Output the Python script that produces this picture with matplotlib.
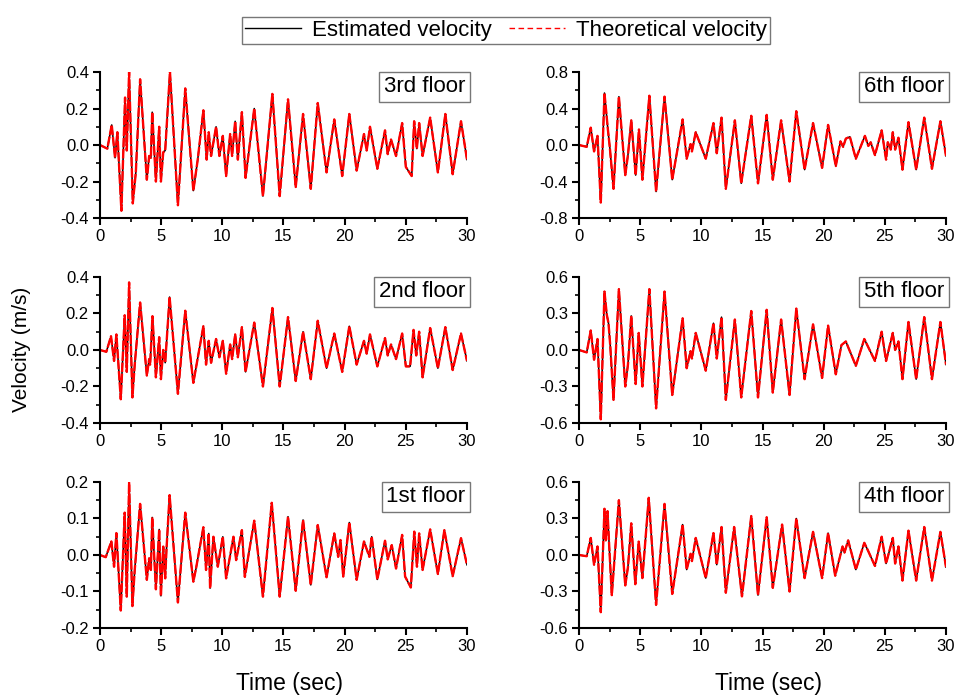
import numpy as np
import matplotlib
matplotlib.use('Agg')
import matplotlib.pyplot as plt
from matplotlib.ticker import MultipleLocator, FormatStrFormatter

plt.rcParams['font.family'] = ['Liberation Sans', 'DejaVu Sans']

# peak / trough values (time in sec, velocity in m/s)
t_3rd = [0, 0.60, 0.96, 1.23, 1.42, 1.75, 2.05, 2.19, 2.38, 2.68, 2.93, 3.28, 3.83, 4.02, 4.16, 4.27,
         4.57, 4.84, 4.98, 5.17, 5.33, 5.72, 6.37, 6.97, 7.63, 7.99, 8.45, 8.72, 8.89, 9.08, 9.49, 9.76,
         10.04, 10.31, 10.64, 10.80, 11.05, 11.27, 11.60, 11.90, 12.61, 13.32, 14.09, 14.69, 15.37, 16.00,
         16.60, 17.23, 17.80, 18.52, 19.15, 19.80, 20.38, 20.98, 21.58, 21.80, 22.07, 22.67, 23.30, 23.52,
         23.79, 24.20, 24.70, 25.00, 25.48, 25.68, 25.90, 26.09, 26.37, 26.99, 27.62, 28.23, 28.83, 29.51, 30.0]
v_3rd = [0, -0.02, 0.11, -0.07, 0.07, -0.36, 0.26, -0.03, 0.40, -0.32, -0.15, 0.36, -0.19, -0.06, -0.07, 0.18,
         -0.20, 0.10, -0.20, -0.04, -0.03, 0.40, -0.33, 0.31, -0.25, -0.08, 0.19, -0.08, 0.07, -0.06, 0.10, -0.06,
         0.05, -0.17, 0.06, -0.06, 0.13, -0.08, 0.18, -0.18, 0.20, -0.28, 0.28, -0.28, 0.25, -0.23,
         0.17, -0.24, 0.23, -0.15, 0.14, -0.17, 0.17, -0.14, 0.06, -0.03, 0.10, -0.13, 0.08, -0.05,
         0.03, -0.06, 0.12, -0.12, -0.17, 0.13, -0.02, 0.12, -0.06, 0.15, -0.15, 0.17, -0.16, 0.13, -0.08]

t_2nd = [0, 0.52, 0.90, 1.15, 1.34, 1.70, 2.02, 2.19, 2.38, 2.65, 2.84, 3.28, 3.83, 4.02, 4.10, 4.29,
         4.57, 4.84, 4.98, 5.17, 5.33, 5.69, 6.37, 6.97, 7.63, 8.45, 8.67, 8.89, 9.08, 9.49, 9.76, 10.04,
         10.31, 10.64, 10.80, 11.05, 11.27, 11.60, 11.90, 12.61, 13.32, 14.09, 14.69, 15.37, 16.00, 16.60,
         17.23, 17.80, 18.52, 19.15, 19.80, 20.38, 20.98, 21.58, 21.80, 22.07, 22.67, 23.30, 23.52, 23.79,
         24.20, 24.70, 25.00, 25.35, 25.63, 25.85, 26.09, 26.37, 26.99, 27.62, 28.23, 28.83, 29.51, 30.0]
v_2nd = [0, -0.01, 0.075, -0.06, 0.085, -0.27, 0.19, -0.12, 0.37, -0.26, -0.08, 0.26, -0.14, -0.05, -0.08, 0.185,
         -0.15, 0.07, -0.16, 0.00, -0.07, 0.29, -0.24, 0.215, -0.18, 0.13, -0.08, 0.05, -0.07, 0.06, -0.04, 0.05,
         -0.13, 0.03, -0.05, 0.085, -0.04, 0.125, -0.12, 0.15, -0.20, 0.23, -0.20, 0.18, -0.17, 0.10,
         -0.16, 0.16, -0.10, 0.09, -0.12, 0.13, -0.08, 0.05, -0.02, 0.085, -0.09, 0.065, -0.03, 0.03,
         -0.05, 0.09, -0.09, -0.09, 0.11, -0.03, 0.10, -0.15, 0.12, -0.10, 0.125, -0.11, 0.09, -0.06]

t_1st = [0, 0.47, 0.93, 1.15, 1.34, 1.70, 2.02, 2.19, 2.38, 2.65, 2.84, 3.28, 3.83, 4.02, 4.16, 4.27,
         4.57, 4.84, 4.98, 5.17, 5.33, 5.44, 5.69, 6.37, 6.97, 7.63, 7.85, 8.45, 8.67, 8.89, 9.00, 9.27,
         9.63, 10.04, 10.31, 10.91, 11.13, 11.60, 11.84, 12.61, 13.32, 14.04, 14.69, 15.37, 16.00, 16.60,
         17.23, 17.80, 18.52, 19.15, 19.47, 19.66, 19.88, 20.38, 20.98, 21.58, 22.02, 22.21, 22.67, 23.30,
         23.52, 23.85, 24.20, 24.70, 24.94, 25.41, 25.69, 25.91, 26.09, 26.37, 26.99, 27.62, 28.15, 28.83,
         29.51, 30.0]
v_1st = [0, -0.006, 0.037, -0.032, 0.06, -0.152, 0.116, -0.114, 0.198, -0.14, -0.041, 0.14, -0.068, -0.009, -0.041, 0.103,
         -0.094, 0.07, -0.112, 0.023, -0.064, 0.018, 0.164, -0.13, 0.116, -0.073, -0.037, 0.076, -0.041, 0.059, -0.091, 0.05,
         -0.032, 0.05, -0.064, 0.05, -0.014, 0.068, -0.06, 0.094, -0.114, 0.143, -0.114, 0.105, -0.098, 0.096,
         -0.082, 0.082, -0.061, 0.059, -0.005, 0.041, -0.059, 0.089, -0.068, 0.037, -0.005, 0.05, -0.067, 0.039,
         -0.012, 0.027, -0.037, 0.055, -0.059, -0.089, 0.064, -0.032, 0.059, -0.041, 0.07, -0.052, 0.068, -0.058,
         0.046, -0.027]

t_6th = [0, 0.63, 0.96, 1.23, 1.51, 1.78, 2.08, 2.36, 2.52, 2.82, 3.26, 3.78, 4.00, 4.27, 4.63, 4.90,
         5.18, 5.75, 6.30, 6.99, 7.62, 8.47, 8.80, 9.12, 9.23, 9.54, 10.36, 10.99, 11.26, 11.65, 12.00, 12.74,
         13.26, 14.08, 14.63, 15.34, 15.84, 16.52, 17.21, 17.76, 18.44, 19.13, 19.87, 20.36, 20.99, 21.37,
         21.59, 21.81, 22.14, 22.63, 23.37, 23.65, 23.84, 24.19, 24.74, 25.10, 25.24, 25.48, 25.65, 25.84,
         26.11, 26.44, 26.93, 27.56, 28.22, 28.85, 29.54, 30.0]
v_6th = [0, -0.02, 0.19, -0.07, 0.10, -0.63, 0.57, 0.17, -0.03, -0.48, 0.53, -0.33, -0.11, 0.27, -0.33, 0.17,
         -0.38, 0.54, -0.51, 0.53, -0.38, 0.28, -0.15, 0.01, -0.07, 0.14, -0.15, 0.24, -0.09, 0.30, -0.48, 0.27,
         -0.42, 0.32, -0.42, 0.33, -0.38, 0.27, -0.40, 0.37, -0.27, 0.24, -0.25, 0.22, -0.23, 0.04,
         -0.02, 0.07, 0.09, -0.15, 0.10, -0.01, 0.03, -0.11, 0.16, -0.16, 0.03, -0.05, 0.14, -0.05,
         0.08, -0.27, 0.25, -0.27, 0.30, -0.26, 0.26, -0.12]

t_5th = [0, 0.63, 0.96, 1.23, 1.51, 1.78, 2.08, 2.27, 2.41, 2.55, 2.82, 3.26, 3.78, 4.00, 4.27, 4.63,
         4.88, 5.18, 5.75, 6.30, 6.99, 7.62, 8.47, 8.80, 9.12, 9.23, 9.54, 10.36, 10.99, 11.26, 11.65, 12.00,
         12.74, 13.26, 14.08, 14.63, 15.34, 15.84, 16.52, 17.21, 17.76, 18.44, 19.13, 19.87, 20.36, 20.99,
         21.45, 21.81, 22.63, 23.32, 24.19, 24.74, 25.10, 25.65, 25.84, 26.11, 26.44, 26.93, 27.56, 28.22,
         28.85, 29.54, 30.0]
v_5th = [0, -0.02, 0.16, -0.08, 0.09, -0.57, 0.48, 0.29, 0.22, 0.04, -0.41, 0.50, -0.30, -0.12, 0.28, -0.28,
         0.14, -0.30, 0.50, -0.48, 0.48, -0.37, 0.26, -0.15, -0.01, -0.07, 0.14, -0.17, 0.22, -0.07, 0.27, -0.41,
         0.25, -0.39, 0.32, -0.39, 0.33, -0.35, 0.25, -0.37, 0.34, -0.24, 0.21, -0.23, 0.20, -0.20,
         0.04, 0.07, -0.13, 0.09, -0.09, 0.15, -0.09, 0.14, 0.00, 0.07, -0.24, 0.23, -0.24, 0.27,
         -0.24, 0.23, -0.12]

t_4th = [0, 0.63, 0.96, 1.23, 1.51, 1.78, 2.08, 2.19, 2.33, 2.47, 2.68, 3.26, 3.78, 4.00, 4.27, 4.60,
         4.88, 5.18, 5.70, 6.30, 6.99, 7.62, 8.47, 8.80, 9.12, 9.23, 9.54, 10.36, 10.99, 11.26, 11.65, 12.00,
         12.68, 13.32, 14.08, 14.63, 15.34, 15.84, 16.60, 17.21, 17.76, 18.44, 19.13, 19.87, 20.36, 20.94,
         21.54, 21.70, 22.00, 22.63, 23.32, 23.65, 24.19, 24.74, 25.10, 25.65, 25.84, 26.11, 26.44, 26.93,
         27.56, 28.22, 28.85, 29.54, 30.0]
v_4th = [0, -0.01, 0.14, -0.08, 0.07, -0.47, 0.38, 0.12, 0.36, 0.07, -0.33, 0.45, -0.25, -0.10, 0.26, -0.24,
         0.11, -0.19, 0.47, -0.41, 0.42, -0.32, 0.25, -0.12, 0.01, -0.05, 0.14, -0.19, 0.18, -0.08, 0.23, -0.31,
         0.23, -0.34, 0.32, -0.33, 0.31, -0.27, 0.25, -0.30, 0.30, -0.19, 0.19, -0.19, 0.18, -0.17,
         0.07, 0.02, 0.12, -0.12, 0.10, 0.03, -0.09, 0.15, -0.07, 0.14, -0.07, 0.07, -0.21, 0.20,
         -0.21, 0.23, -0.21, 0.19, -0.10]

panels = [
    # (label, t, v, ymax, major, minor, left, bottom)
    ('3rd floor', t_3rd, v_3rd, 0.4, 0.2, 0.1, 0.1047, 0.6863),
    ('2nd floor', t_2nd, v_2nd, 0.4, 0.2, 0.1, 0.1047, 0.3914),
    ('1st floor', t_1st, v_1st, 0.2, 0.1, 0.05, 0.1047, 0.0964),
    ('6th floor', t_6th, v_6th, 0.8, 0.4, 0.2, 0.6063, 0.6863),
    ('5th floor', t_5th, v_5th, 0.6, 0.3, 0.15, 0.6063, 0.3914),
    ('4th floor', t_4th, v_4th, 0.6, 0.3, 0.15, 0.6063, 0.0964),
]

fig = plt.figure(figsize=(9.55, 6.95), dpi=100)

for label, t, v, ymax, major, minor, left, bottom in panels:
    ax = fig.add_axes([left, bottom, 0.3843, 0.2101])
    l1, = ax.plot(t, v, color='black', lw=1.1, label='Estimated velocity')
    l2, = ax.plot(t, v, color='red', lw=1.7, ls=(0, (4, 0.7)), label='Theoretical velocity')
    ax.set_xlim(0, 30)
    ax.set_ylim(-ymax, ymax)
    ax.xaxis.set_major_locator(MultipleLocator(5))
    ax.xaxis.set_minor_locator(MultipleLocator(2.5))
    ax.yaxis.set_major_locator(MultipleLocator(major))
    ax.yaxis.set_minor_locator(MultipleLocator(minor))
    ax.yaxis.set_major_formatter(FormatStrFormatter('%.1f'))
    ax.spines['top'].set_visible(False)
    ax.spines['right'].set_visible(False)
    ax.spines['left'].set_linewidth(1.5)
    ax.spines['bottom'].set_linewidth(1.5)
    ax.tick_params(which='major', direction='out', length=5, width=1.5, labelsize=12, pad=3)
    ax.tick_params(which='minor', direction='out', length=3, width=1.2)
    ax.text(0.995, 0.97, label, transform=ax.transAxes, ha='right', va='top', fontsize=16,
            bbox=dict(boxstyle='square,pad=0.2', fc='white', ec='#777777', lw=1))

fig.text(0.023, 0.497, 'Velocity (m/s)', rotation=90, ha='center', va='center', fontsize=15)
fig.text(0.303, 0.017, 'Time (sec)', ha='center', va='center', fontsize=16.5)
fig.text(0.805, 0.017, 'Time (sec)', ha='center', va='center', fontsize=16.5)

# legend handles: plain black line and a visibly dashed red line
h1 = plt.Line2D([], [], color='black', lw=1.0)
h2 = plt.Line2D([], [], color='red', lw=1.0, ls=(0, (4, 2.5)))
leg = fig.legend(handles=[h1, h2], labels=[l1.get_label(), l2.get_label()], loc='center',
                 bbox_to_anchor=(0.53, 0.956), ncol=2, fontsize=16,
                 frameon=True, fancybox=False, handlelength=2.5, columnspacing=0.8, handletextpad=0.5,
                 borderpad=0.15, borderaxespad=0)
leg.get_frame().set_edgecolor('#555555')
leg.get_frame().set_linewidth(1.0)

fig.savefig('out.png', dpi=100)
